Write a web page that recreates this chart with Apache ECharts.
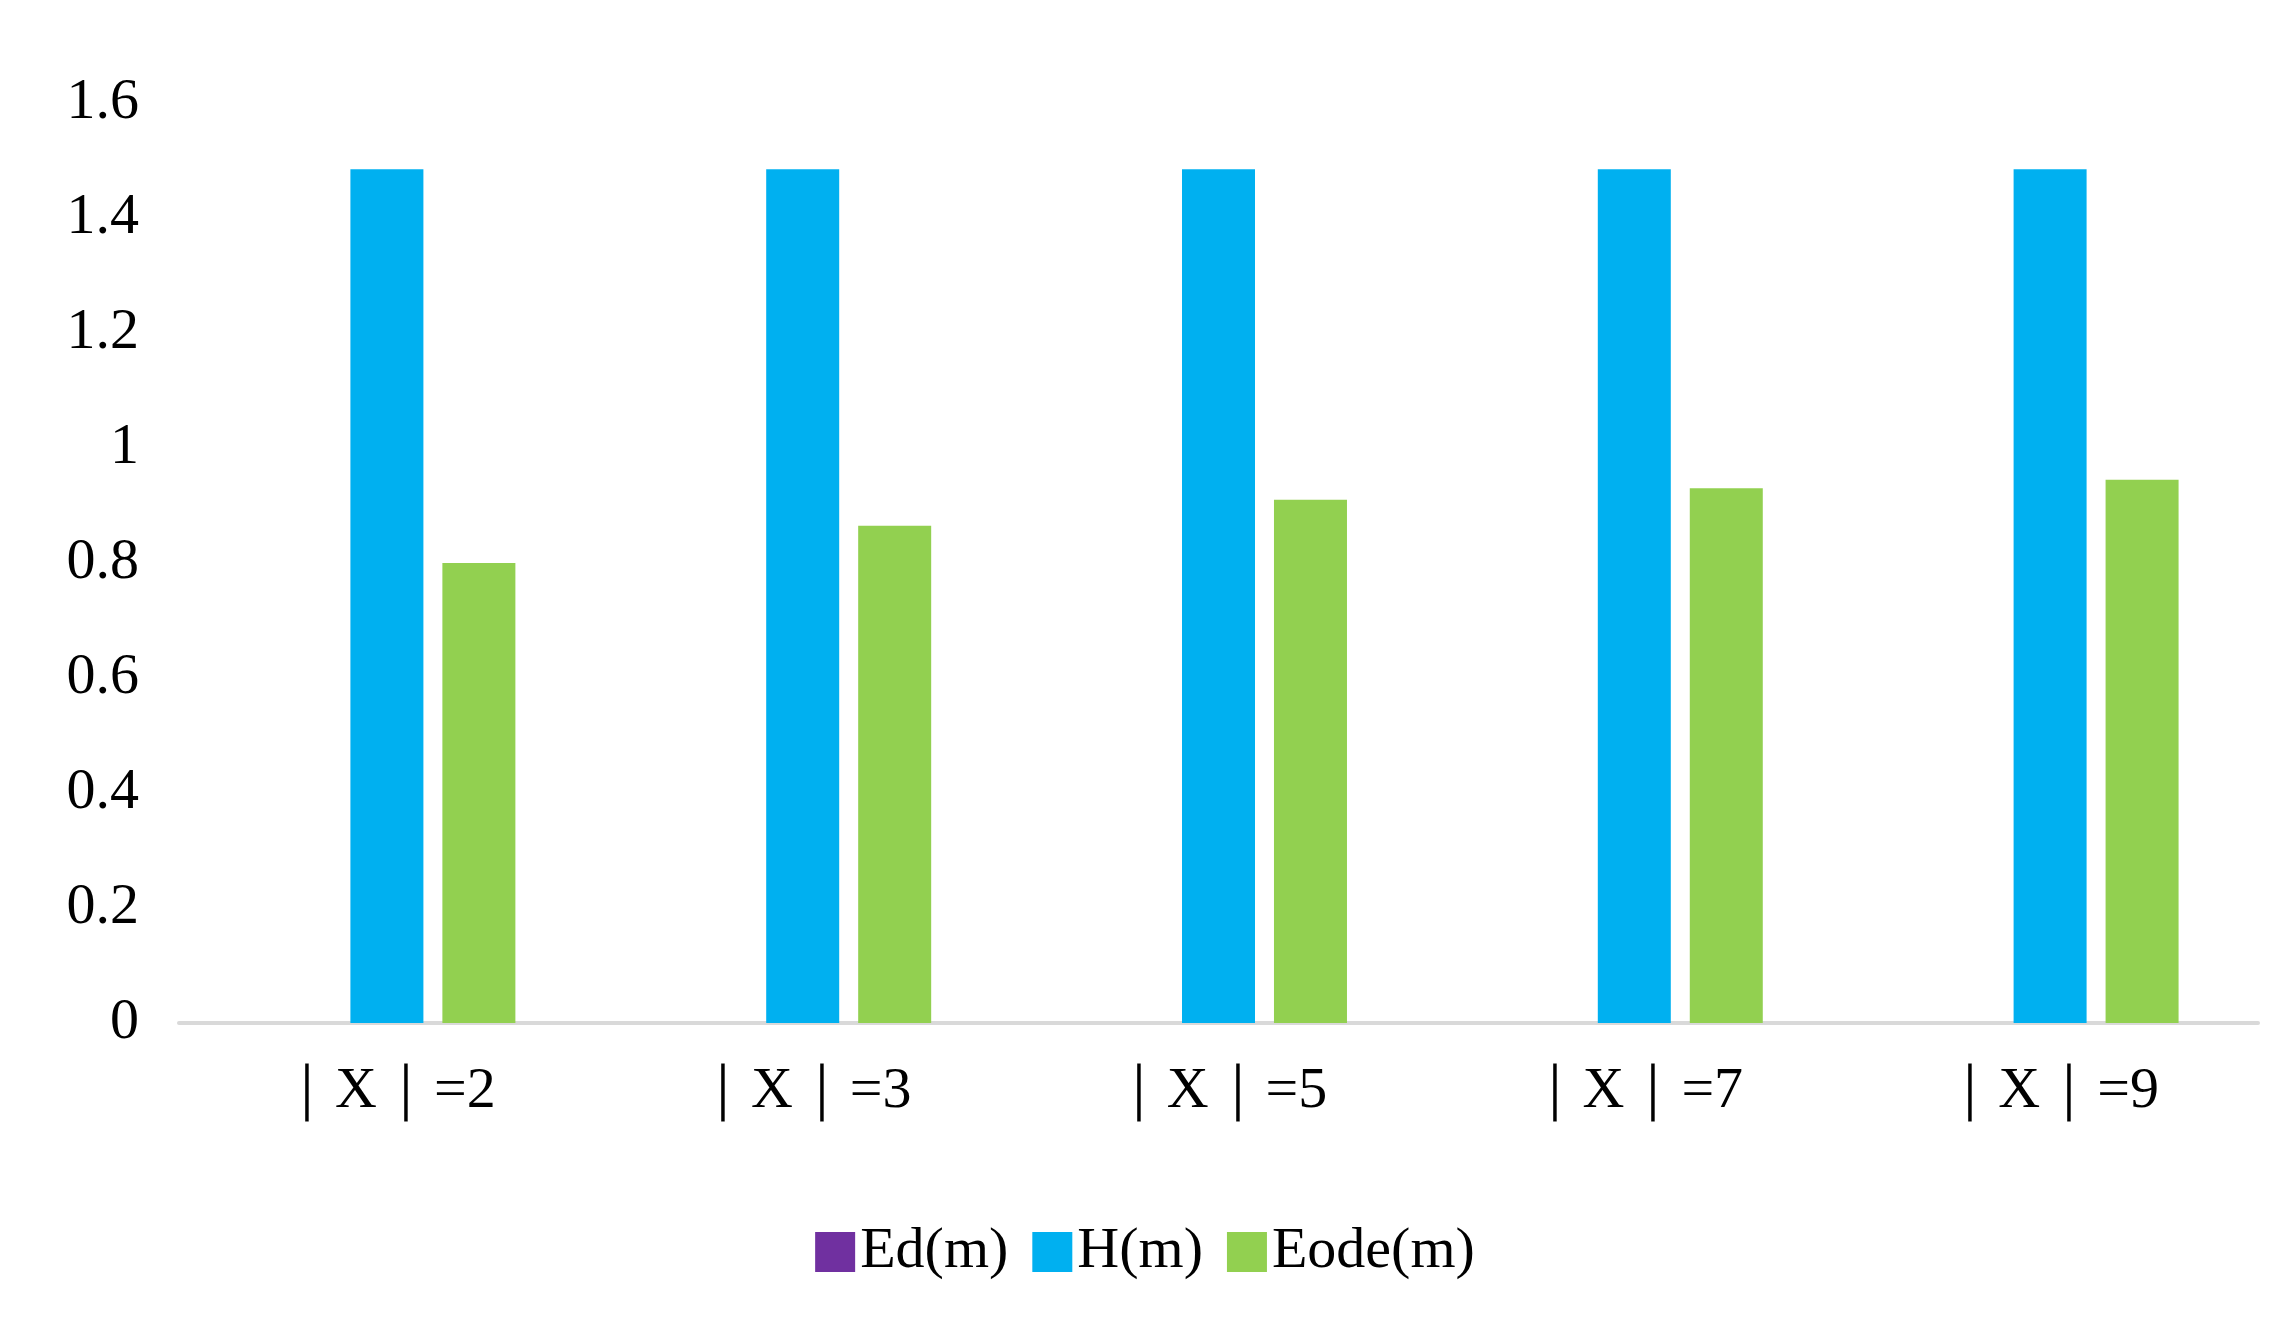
<!DOCTYPE html>
<html>
<head>
<meta charset="UTF-8">
<script src="https://cdn.jsdelivr.net/npm/echarts@6/dist/echarts.min.js"></script>
<style>html,body{margin:0;background:#fff}#main{width:2290px;height:1322px}</style>
</head>
<body>
<div id="main"></div>
<script>
var categories = ['｜X｜=2', '｜X｜=3', '｜X｜=5', '｜X｜=7', '｜X｜=9'];
var edValues = [0, 0, 0, 0, 0];
var hValues = [1.485, 1.485, 1.485, 1.485, 1.485];
var eodeValues = [0.80, 0.865, 0.91, 0.93, 0.945];
var yTicks = { min: 0, max: 1.6, interval: 0.2 };

var font = '"Liberation Serif", "Times New Roman", serif';
var chart = echarts.init(document.getElementById('main'));
function bar(name, data, color) {
	return { name: name, type: 'bar', data: data, barWidth: 73, barGap: '26%', itemStyle: { color: color } };
}
chart.setOption({
	animation: false,
	grid: { left: 179, right: 32, top: 103, bottom: 299 },
	legend: {
		bottom: 36, left: 'center', itemWidth: 40, itemHeight: 40, itemGap: 24,
		icon: 'rect',
		textStyle: { fontFamily: font, fontSize: 58, color: '#000' }
	},
	xAxis: {
		type: 'category', data: categories,
		axisLine: { lineStyle: { color: '#d9d9d9', width: 4 } },
		axisTick: { show: false },
		axisLabel: { fontFamily: font, fontSize: 58, color: '#000', margin: 40 }
	},
	yAxis: {
		type: 'value', min: yTicks.min, max: yTicks.max, interval: yTicks.interval,
		splitLine: { show: false },
		axisLabel: { fontFamily: font, fontSize: 58, color: '#000', margin: 40,
			formatter: function (v) { return +v.toFixed(1) + ''; } }
	},
	series: [
		bar('Ed(m)', edValues, '#7030a0'),
		bar('H(m)', hValues, '#00b0f0'),
		bar('Eode(m)', eodeValues, '#92d050')
	]
});
</script>
</body>
</html>
